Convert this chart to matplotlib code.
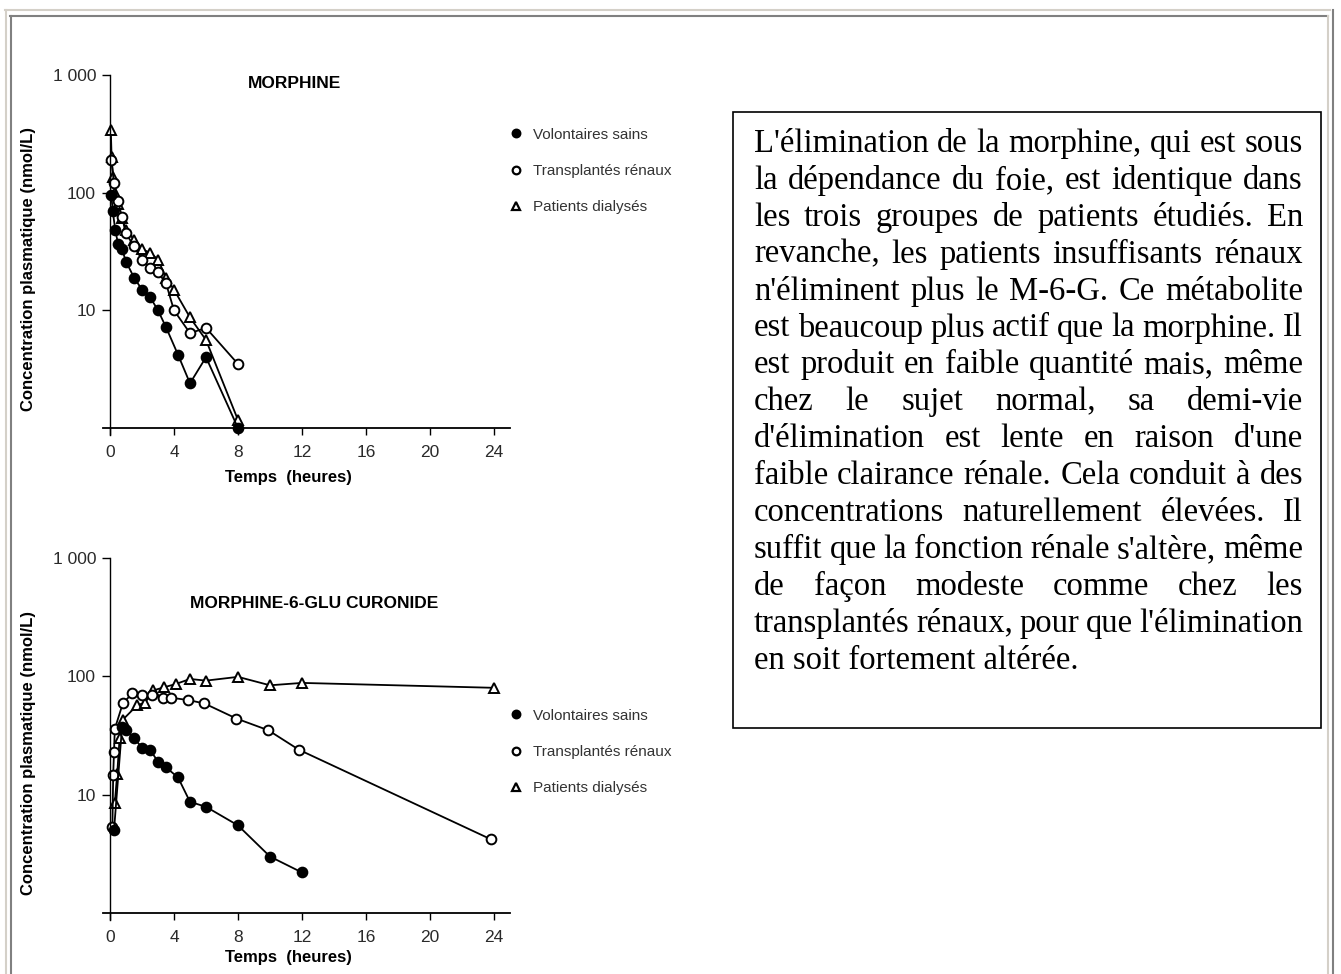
import matplotlib
matplotlib.use('Agg')
import matplotlib.pyplot as plt
from matplotlib.lines import Line2D
from matplotlib.patches import Rectangle
from matplotlib.ticker import NullLocator

W, H = 1341, 974

# ---- data ----
hour_ticks = [0, 4, 8, 12, 16, 20, 24]
conc_ticks = [10, 100, 1000]
conc_labels = ['10', '100', '1 000']
groups = ['Volontaires sains', 'Transplantés rénaux', 'Patients dialysés']

# morphine
morph_t_vol = [0.08, 0.17, 0.33, 0.5, 0.75, 1, 1.5, 2, 2.5, 3, 3.5, 4.25, 5, 6, 8]
morph_c_vol = [96, 70, 48, 37, 33, 26, 19, 15, 13, 10, 7.2, 4.2, 2.4, 4.0, 1.0]
morph_t_trans = [0.08, 0.25, 0.5, 0.75, 1, 1.5, 2, 2.5, 3, 3.5, 4, 5, 6, 8]
morph_c_trans = [190, 120, 85, 62, 45, 35, 27, 23, 21, 17, 10, 6.4, 7.1, 3.5]
morph_t_dial = [0.05, 0.1, 0.2, 0.33, 0.5, 0.75, 1, 1.5, 2, 2.5, 3, 3.5, 4, 5, 6, 8]
morph_c_dial = [340, 200, 135, 100, 80, 61, 48, 40, 33, 31, 27, 19, 15, 8.7, 5.6, 1.17]

# morphine-6-glucuronide
m6g_t_vol = [0.25, 0.75, 1, 1.5, 2, 2.5, 3, 3.5, 4.25, 5, 6, 8, 10, 12]
m6g_c_vol = [5, 37, 35, 30, 25, 24, 19, 17, 14, 8.7, 7.9, 5.5, 3.0, 2.2]
m6g_t_trans = [0.15, 0.2, 0.25, 0.3, 0.8, 1.4, 2, 2.6, 3.3, 3.8, 4.9, 5.9, 7.9, 9.9, 11.8, 23.8]
m6g_c_trans = [5.3, 14.8, 23, 36, 59, 72, 69, 70, 66, 66, 63, 59, 44, 35, 24, 4.2]
m6g_t_dial = [0.3, 0.45, 0.6, 0.8, 1.7, 2.2, 2.7, 3.4, 4.1, 5, 6, 8, 10, 12, 24]
m6g_c_dial = [8.5, 15, 30, 43, 57, 60, 76, 81, 86, 95, 92, 99, 84, 88, 80]

text_lines = [
    "L'élimination de la morphine, qui est sous",
    "la dépendance du foie, est identique dans",
    "les trois groupes de patients étudiés. En",
    "revanche, les patients insuffisants rénaux",
    "n'éliminent plus le M-6-G. Ce métabolite",
    "est beaucoup plus actif que la morphine. Il",
    "est produit en faible quantité mais, même",
    "chez le sujet normal, sa demi-vie",
    "d'élimination est lente en raison d'une",
    "faible clairance rénale. Cela conduit à des",
    "concentrations naturellement élevées. Il",
    "suffit que la fonction rénale s'altère, même",
    "de façon modeste comme chez les",
    "transplantés rénaux, pour que l'élimination",
    "en soit fortement altérée.",
]

styles = [dict(marker='o', mfc='black'),
          dict(marker='o', mfc='white'),
          dict(marker='^', mfc='white')]

plt.rcParams['font.family'] = ['Liberation Sans', 'DejaVu Sans']


def fx(x):
    return x / W


def fy(y):
    return 1 - y / H


fig = plt.figure(figsize=(W / 100, H / 100), dpi=100)
fig.patch.set_facecolor('white')


def make_axes(top_px, bottom_px, title, title_x, title_y, series, leg_y, xlab_y):
    left, right = 102.8, 510.0
    ax = fig.add_axes([fx(left), fy(bottom_px), (right - left) / W,
                       (bottom_px - top_px) / H])
    ax.set_yscale('log')
    ax.set_xlim(-0.45, 25)
    ax.set_ylim(0.873, 1000)
    for side in ['top', 'right']:
        ax.spines[side].set_visible(False)
    ax.spines['left'].set_position(('data', 0))
    ax.spines['bottom'].set_position(('data', 1))
    ax.spines['left'].set_linewidth(1.0)
    ax.spines['bottom'].set_linewidth(1.3)
    ax.set_xticks(hour_ticks)
    ax.set_yticks(conc_ticks)
    ax.set_yticklabels(conc_labels)
    ax.yaxis.set_minor_locator(NullLocator())
    ax.tick_params(axis='both', direction='out', width=1.0, labelsize=12.5,
                   labelcolor='#2a2a2a')
    ax.tick_params(axis='y', length=6, pad=4)
    ax.tick_params(axis='x', length=5, pad=7)
    ax.set_xlabel('Temps  (heures)', fontsize=12, fontweight='bold')
    ax.xaxis.set_label_coords(0.457, xlab_y)
    ax.set_ylabel('Concentration plasmatique (nmol/L)', fontsize=12,
                  fontweight='bold')
    ax.yaxis.set_label_coords(-0.165, 0.46)
    ax.patch.set_alpha(0)

    for (t, c), st in zip(series[::-1], styles[::-1]):
        ax.plot(t, c, color='black', lw=1.3, ms=7, mec='black', mew=1.4,
                clip_on=False, **st)

    fig.text(fx(title_x), fy(title_y), title, fontsize=12.5, fontweight='bold',
             ha='left', va='center')

    handles = [Line2D([], [], ls='none', color='black', ms=5.5, mec='black',
                      mew=1.6, **st) for st in styles]
    fig.legend(handles, groups, loc='upper left',
               bbox_to_anchor=(fx(496), fy(leg_y)), frameon=False,
               fontsize=11, handlelength=0.8, handletextpad=0.7,
               labelspacing=1.45, labelcolor='#333333')
    return ax


make_axes(75, 435, 'MORPHINE', 248, 83,
          [(morph_t_vol, morph_c_vol), (morph_t_trans, morph_c_trans),
           (morph_t_dial, morph_c_dial)], 114, -0.097)
make_axes(558, 920, 'MORPHINE-6-GLU CURONIDE', 190, 603,
          [(m6g_t_vol, m6g_c_vol), (m6g_t_trans, m6g_c_trans),
           (m6g_t_dial, m6g_c_dial)], 695, -0.083)

# text box
box_l, box_r, box_t, box_b = 733, 1321, 112, 728
fig.add_artist(Rectangle((fx(box_l), fy(box_b)), (box_r - box_l) / W,
                         (box_b - box_t) / H, transform=fig.transFigure,
                         fill=False, lw=1.2, ec='black'))

renderer = fig.canvas.get_renderer()
x0, x1 = 754, 1303
y0, dy = 152, 36.9
serif = dict(family='Liberation Serif', fontsize=23.5, va='baseline', ha='left')
for i, line in enumerate(text_lines):
    y = fy(y0 + i * dy)
    if i == len(text_lines) - 1:
        fig.text(fx(x0), y, line, **serif)
        continue
    words = line.split(' ')
    objs = [fig.text(0, y, w, **serif) for w in words]
    widths = [o.get_window_extent(renderer).width for o in objs]
    gap = ((x1 - x0) - sum(widths)) / (len(words) - 1)
    x = x0
    for o, w in zip(objs, widths):
        o.set_x(fx(x))
        x += w + gap

# outer page frame (html table border)
beige, grey = '#d4d0c8', '#808080'
fig.add_artist(Line2D([fx(5), fx(1330)], [fy(10), fy(10)], color=beige, lw=1.5))
fig.add_artist(Line2D([fx(6), fx(6)], [fy(10), fy(974)], color=beige, lw=1.5))
fig.add_artist(Line2D([fx(10), fx(1328)], [fy(15.5), fy(15.5)], color=grey, lw=1.5))
fig.add_artist(Line2D([fx(11), fx(11)], [fy(15.5), fy(974)], color=grey, lw=1.5))
fig.add_artist(Line2D([fx(1328), fx(1328)], [fy(15.5), fy(974)], color=beige, lw=1.5))
fig.add_artist(Line2D([fx(1333), fx(1333)], [fy(10), fy(974)], color=grey, lw=1.5))

fig.savefig('out.png', dpi=100, facecolor='white')
